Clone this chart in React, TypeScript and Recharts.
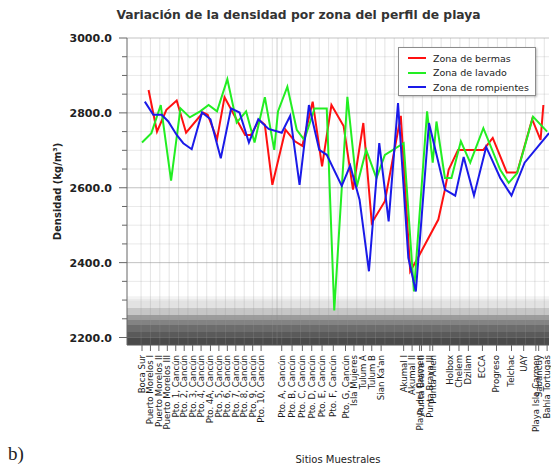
import React from 'react';
import { LineChart, Line, XAxis, YAxis, ReferenceLine, ReferenceArea } from 'recharts';

// sampling sites and where their labels sit on the x axis
const sites = [
  'Boca Sur', 'Puerto Morelos I', 'Puerto Morelos II', 'Puerto Morelos III',
  'Pto. 1, Cancún', 'Pto. 2, Cancún', 'Pto. 3, Cancún', 'Pto. 4, Cancún', 'Pto. 4A, Cancún',
  'Pto. 5, Cancún', 'Pto. 6, Cancún', 'Pto. 7, Cancún', 'Pto. 8, Cancún', 'Pto. 9, Cancún',
  'Pto. 10, Cancún', 'Pto. A, Cancún', 'Pto. B, Cancún', 'Pto. C, Cancún', 'Pto. D, Cancún',
  'Pto. E, Cancún', 'Pto. F, Cancún', 'Pto. G, Cancún', 'Isla Mujeres', 'Tulum A', 'Tulum B',
  "Sian Ka'an", 'Akumal I', 'Akumal II', 'Playa del Carmen', 'Punta Brava II', 'Punta Brava III',
  'Punta Allen', 'Holbox', 'Chelem', 'Dzilam', 'ECCA', 'Progreso', 'Telchac', 'UAY',
  'Playa Isla Carmen', 'Sabancuy', 'Bahía Tortugas',
];
const sitePos = [
  1.6, 2.5, 3.4, 4.3, 5.2, 6.1, 7.0, 7.9, 8.9, 9.8, 10.7, 11.6, 12.5, 13.4, 14.3,
  16.5, 17.6, 18.7, 19.7, 20.8, 22.0, 23.3, 24.2, 25.2, 26.1, 27.1,
  29.5, 30.4, 31.2, 31.4, 32.3, 32.6, 34.4, 35.4, 36.4, 37.9, 39.4, 41.0, 42.3, 43.6, 43.9, 44.8,
];

// Zona de bermas
const bermasX = [
  2.3, 3.2, 4.2, 5.3, 6.3, 8.1, 8.6, 9.6, 10.4, 11.8, 12.6, 13.2, 14.1, 14.7, 15.5, 16.9, 17.9, 18.7,
  19.8, 20.8, 21.8, 23.1, 24.1, 25.2, 26.1, 27.5, 29.2, 30.2, 31.0, 33.2, 33.9, 34.3, 35.3, 38.0,
  39.0, 40.5, 41.6, 43.2, 44.1, 44.4,
];
const bermasY = [
  2861, 2750, 2808, 2833, 2747, 2801, 2795, 2730, 2842, 2777, 2741, 2741, 2781, 2768, 2608, 2755,
  2724, 2712, 2830, 2657, 2821, 2765, 2595, 2773, 2506, 2564, 2792, 2377, 2412, 2515, 2595, 2648,
  2701, 2701, 2733, 2641, 2641, 2783, 2728, 2821,
];

// Zona de lavado
const lavadoX = [
  1.6, 2.6, 3.6, 4.7, 5.7, 6.7, 7.8, 8.7, 9.6, 10.7, 11.7, 12.7, 13.6, 14.7, 15.7, 16.1, 17.1, 18.1,
  18.9, 20.0, 21.3, 22.1, 23.5, 24.5, 25.5, 26.6, 27.5, 29.5, 30.6, 32.0, 32.6, 33.0, 33.9, 34.6,
  35.6, 36.6, 38.0, 39.8, 40.7, 41.6, 43.3, 44.8,
];
const lavadoY = [
  2721, 2746, 2821, 2619, 2812, 2788, 2804, 2821, 2804, 2890, 2774, 2804, 2721, 2842, 2701, 2804,
  2870, 2755, 2728, 2812, 2812, 2272, 2843, 2603, 2701, 2626, 2688, 2719, 2323, 2804, 2667, 2777,
  2626, 2626, 2724, 2667, 2759, 2648, 2613, 2639, 2790, 2750,
];

// Zona de rompientes
const rompientesX = [
  1.9, 2.8, 3.7, 4.4, 5.3, 6.0, 6.9, 8.0, 8.9, 10.0, 11.1, 12.0, 13.0, 14.0, 15.1, 16.5, 17.4, 18.4,
  19.4, 20.5, 21.3, 22.9, 23.8, 24.8, 25.8, 26.9, 27.9, 28.9, 30.0, 30.8, 32.2, 33.9, 35.0, 35.9,
  37.0, 38.3, 39.8, 41.0, 42.4, 45.0,
];
const rompientesY = [
  2830, 2795, 2795, 2777, 2741, 2719, 2703, 2801, 2783, 2679, 2812, 2801, 2721, 2783, 2757, 2747,
  2792, 2608, 2821, 2701, 2688, 2605, 2659, 2568, 2377, 2719, 2510, 2826, 2413, 2323, 2773, 2595,
  2579, 2682, 2579, 2709, 2626, 2579, 2667, 2746,
];

const yTicks = [
  2200, 2250, 2300, 2350, 2400, 2450, 2500, 2550, 2600, 2650, 2700, 2750, 2800, 2850, 2900, 2950, 3000,
];
const yMajor = [2200, 2400, 2600, 2800, 3000];

const seriesNames = ['Zona de bermas', 'Zona de lavado', 'Zona de rompientes'];
const seriesColors = ['#ff1010', '#22ee22', '#1a1ae8'];

const toPoints = (xs: number[], ys: number[]) => xs.map((x, i) => ({ x, y: ys[i] }));

const FONT = '"DejaVu Sans", Verdana, sans-serif';
const gridX = Array.from({ length: 44 }, (_, i) => i + 1.5);

const XTick = (props: any) => {
  const { x, y, index } = props;
  return (
    <g>
      <line x1={x} x2={x} y1={y} y2={y + 6} stroke="#666" />
      <text
        transform={`translate(${x + 3},${y + 10}) rotate(-90)`}
        textAnchor="end"
        fontSize={8.6}
        fontFamily={FONT}
        fill="#1a1a1a"
      >
        {sites[index]}
      </text>
    </g>
  );
};

const YTick = (props: any) => {
  const { x, y, payload } = props;
  const major = payload.value % 200 === 0;
  return (
    <g>
      <line x1={x - (major ? 8 : 5)} x2={x} y1={y} y2={y} stroke="#666" />
      {major && (
        <text x={x - 15} y={y} dy={4} textAnchor="end" fontSize={11} fontWeight="bold" fontFamily={FONT} fill="#222">
          {payload.value.toFixed(1)}
        </text>
      )}
    </g>
  );
};

export default function App() {
  const series = [
    toPoints(bermasX, bermasY),
    toPoints(lavadoX, lavadoY),
    toPoints(rompientesX, rompientesY),
  ];

  return (
    <div style={{ position: 'absolute', left: 0, top: 0, width: 551, height: 468, background: '#fff', fontFamily: FONT }}>
      <div style={{ position: 'absolute', left: 0, top: 8, width: 597, textAlign: 'center', fontSize: 12.3, fontWeight: 'bold', color: '#333' }}>
        Variación de la densidad por zona del perfil de playa
      </div>

      <LineChart width={551} height={468} margin={{ top: 38, right: 2, bottom: 0, left: 0 }}>
        <defs>
          <linearGradient id="band" x1="0" y1="0" x2="0" y2="1">
            <stop offset="0" stopColor="#f3f3f3" />
            <stop offset="0.1" stopColor="#f3f3f3" />
            <stop offset="0.1" stopColor="#e2e2e2" />
            <stop offset="0.23" stopColor="#e2e2e2" />
            <stop offset="0.23" stopColor="#c6c6c6" />
            <stop offset="0.38" stopColor="#c6c6c6" />
            <stop offset="0.38" stopColor="#9c9c9c" />
            <stop offset="0.48" stopColor="#9c9c9c" />
            <stop offset="0.48" stopColor="#838383" />
            <stop offset="0.58" stopColor="#838383" />
            <stop offset="0.58" stopColor="#6c6c6c" />
            <stop offset="0.73" stopColor="#6c6c6c" />
            <stop offset="0.73" stopColor="#5a5a5a" />
            <stop offset="0.85" stopColor="#5a5a5a" />
            <stop offset="0.85" stopColor="#4a4a4a" />
            <stop offset="1" stopColor="#4a4a4a" />
          </linearGradient>
        </defs>
        <XAxis
          type="number"
          dataKey="x"
          domain={[0, 45]}
          ticks={sitePos}
          interval={0}
          tick={<XTick />}
          tickSize={0}
          tickMargin={0}
          tickLine={false}
          axisLine={{ stroke: '#555' }}
          height={123}
          allowDataOverflow
          label={{ value: 'Sitios Muestrales', position: 'insideBottom', offset: 5, fontSize: 10, fill: '#222', fontFamily: FONT }}
        />
        <YAxis
          type="number"
          domain={[2180, 3000]}
          ticks={yTicks}
          interval={0}
          tick={<YTick />}
          tickSize={0}
          tickMargin={0}
          tickLine={false}
          axisLine={{ stroke: '#666' }}
          width={127}
          allowDataOverflow
          label={{ value: 'Densidad (kg/m³)', angle: -90, position: 'center', dx: -6, fontSize: 10, fontWeight: 'bold', fill: '#222', fontFamily: FONT }}
        />
        <ReferenceArea y1={2180} y2={2310} fill="url(#band)" fillOpacity={1} stroke="none" />
        {yTicks.map(v => (
          <ReferenceLine key={`h${v}`} y={v} stroke={yMajor.includes(v) ? '#777' : '#999'} strokeOpacity={yMajor.includes(v) ? 0.45 : 0.22} />
        ))}
        {gridX.map(v => (
          <ReferenceLine key={`v${v}`} x={v} stroke="#999" strokeOpacity={0.25} />
        ))}
        <ReferenceLine x={16} stroke="#888" strokeOpacity={0.4} />
        {series.map((pts, i) => (
          <Line
            key={seriesNames[i]}
            data={pts}
            dataKey="y"
            type="linear"
            stroke={seriesColors[i]}
            strokeWidth={2}
            dot={false}
            isAnimationActive={false}
          />
        ))}
      </LineChart>

      <div style={{ position: 'absolute', left: 398, top: 47, width: 138, height: 49, border: '1px solid #8c8c8c', background: '#fff', boxShadow: '1px 1px 2px rgba(0,0,0,0.25)', boxSizing: 'border-box', paddingTop: 3 }}>
        {seriesNames.map((name, i) => (
          <div key={name} style={{ display: 'flex', alignItems: 'center', height: 14.5, fontSize: 9.5, color: '#222' }}>
            <span style={{ display: 'inline-block', width: 18, height: 2, background: seriesColors[i], marginLeft: 9, marginRight: 7 }} />
            {name}
          </div>
        ))}
      </div>

      <div style={{ position: 'absolute', left: 8, top: 443, fontFamily: '"Liberation Serif", serif', fontSize: 19, color: '#222' }}>b)</div>
    </div>
  );
}
